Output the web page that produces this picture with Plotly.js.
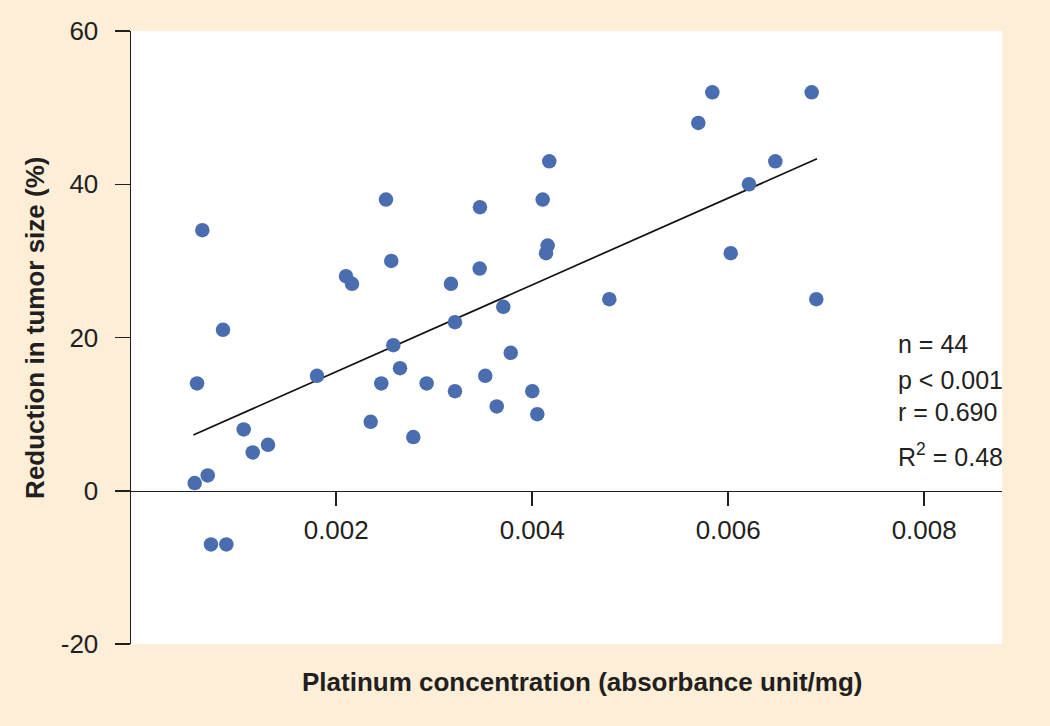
<!DOCTYPE html>
<html>
<head>
<meta charset="utf-8">
<script src="https://cdn.plot.ly/plotly-3.0.1.min.js"></script>
<style>
  html, body { margin: 0; padding: 0; background: #fdeed8; }
  #chart { width: 1050px; height: 726px; }
</style>
</head>
<body>
<div id="chart"></div>
<script>
// Platinum concentration (absorbance unit/mg)
const platinumConc = [
  0.000556, 0.000580, 0.000634, 0.000689, 0.000722, 0.000845, 0.000879, 0.001056,
  0.001148, 0.001304, 0.001804, 0.002100, 0.002161, 0.002352, 0.002460, 0.002508,
  0.002562, 0.002583, 0.002651, 0.002787, 0.002923, 0.003171, 0.003212, 0.003212,
  0.003464, 0.003467, 0.003521, 0.003638, 0.003705, 0.003781, 0.004001, 0.004052,
  0.004107, 0.004141, 0.004158, 0.004174, 0.004787, 0.005695, 0.005838, 0.006026,
  0.006212, 0.006481, 0.006852, 0.006899
];
// Reduction in tumor size (%)
const tumorReduction = [
  1, 14, 34, 2, -7, 21, -7, 8,
  5, 6, 15, 28, 27, 9, 14, 38,
  30, 19, 16, 7, 14, 27, 22, 13,
  29, 37, 15, 11, 24, 18, 13, 10,
  38, 31, 32, 43, 25, 48, 52, 31,
  40, 43, 52, 25
];
// Regression line end points
const fitX = [0.000542, 0.006906];
const fitY = [7.28, 43.33];

const xTickVals = [0.002, 0.004, 0.006, 0.008];
const xTickText = ['0.002', '0.004', '0.006', '0.008'];
const yTickVals = [-20, 0, 20, 40, 60];
const yTickText = ['-20', '0', '20', '40', '60'];

const statLines = ['n = 44', 'p < 0.001', 'r = 0.690', 'R<sup>2</sup> = 0.48'];

const FONT = 'Liberation Sans, Arial, Helvetica, sans-serif';
const INK = '#231f20';

const traces = [
  {
    type: 'scatter', mode: 'lines',
    x: fitX, y: fitY,
    line: { color: '#111111', width: 1.7 },
    hoverinfo: 'skip'
  },
  {
    type: 'scatter', mode: 'markers',
    x: platinumConc, y: tumorReduction,
    marker: { size: 14.5, color: '#4a6db0', line: { width: 0 } }
  }
];

const statY = [0.490, 0.431, 0.378, 0.309];
const annotations = statLines.map((t, i) => ({
  xref: 'paper', yref: 'paper', x: 0.878, y: statY[i],
  xanchor: 'left', yanchor: 'middle', showarrow: false,
  text: t, font: { family: FONT, size: 25, color: INK }
}));
annotations.push({
  xref: 'paper', yref: 'paper', x: 0.518, y: -0.062,
  xanchor: 'center', yanchor: 'middle', showarrow: false,
  text: '<b>Platinum concentration (absorbance unit/mg)</b>',
  font: { family: FONT, size: 26, color: INK }
});
annotations.push({
  xref: 'paper', yref: 'paper', x: -0.110, y: 0.516,
  xanchor: 'center', yanchor: 'middle', showarrow: false, textangle: -90,
  text: '<b>Reduction in tumor size (%)</b>',
  font: { family: FONT, size: 26, color: INK }
});

const layout = {
  width: 1050, height: 726,
  margin: { l: 131, r: 48, t: 31, b: 82, pad: 0 },
  paper_bgcolor: '#fdeed8',
  plot_bgcolor: '#ffffff',
  showlegend: false,
  font: { family: FONT, color: INK },
  xaxis: {
    range: [-0.0000939, 0.008794],
    anchor: 'free', position: 0.25,
    tickmode: 'array', tickvals: xTickVals, ticktext: xTickText,
    showgrid: false, zeroline: false,
    showline: true, linecolor: INK, linewidth: 1.5,
    ticks: 'outside', ticklen: 14, tickwidth: 1.5, tickcolor: INK,
    ticklabelstandoff: 2,
    tickfont: { family: FONT, size: 26, color: INK }
  },
  yaxis: {
    range: [-20, 60],
    tickmode: 'array', tickvals: yTickVals, ticktext: yTickText,
    showgrid: false, zeroline: false,
    showline: true, linecolor: INK, linewidth: 1.5,
    ticks: 'outside', ticklen: 15, tickwidth: 1.5, tickcolor: INK,
    ticklabelstandoff: 11,
    tickfont: { family: FONT, size: 26, color: INK }
  },
  annotations: annotations
};

Plotly.newPlot('chart', traces, layout, { displayModeBar: false, staticPlot: true });
</script>
</body>
</html>
